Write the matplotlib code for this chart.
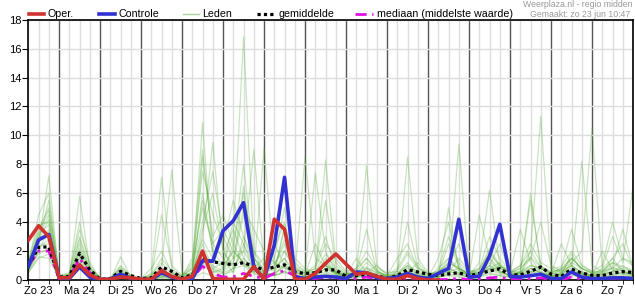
"""
Ensemble neerslagpluim (Weerplaza, regio midden) -> out.png
Waarden per 6 uur, afgelezen van het origineel.
"""

import matplotlib
matplotlib.use("Agg")
import matplotlib.pyplot as plt
from matplotlib.lines import Line2D

plt.rcParams["font.family"] = ["Liberation Sans", "DejaVu Sans"]

# 6-uurs stappen vanaf zo 23 jun 06:00 t/m ma 8 jul 00:00 (60 punten)
day_labels = ["Zo 23", "Ma 24", "Di 25", "Wo 26", "Do 27", "Vr 28", "Za 29", "Zo 30",
              "Ma 1", "Di 2", "Wo 3", "Do 4", "Vr 5", "Za 6", "Zo 7"]

# layout per lid: zo23 (06,12,18) | ma24 (00,06,12,18) | ... | zo7 | ma8 00
leden = [
    [0.8, 2.5, 7.2, 0.2, 0.2, 1.5, 0.4, 0.0, 0.1, 0.5, 0.2, 0.0, 0.1, 0.3, 0.2, 0.0, 0.2, 2.5, 0.8,
     1.2, 3.0, 16.8, 2.0, 0.5, 0.8, 1.5, 0.3, 0.1, 0.2, 0.5, 0.3, 0.1, 0.1, 0.3, 0.2, 0.0, 0.1, 0.4, 0.2,
     0.1, 0.5, 1.2, 0.8, 0.3, 0.2, 0.6, 1.0, 0.4, 0.2, 0.5, 0.8, 0.3, 0.2, 0.6, 0.4, 0.2, 0.1, 0.3, 0.5, 0.4],
    [1.0, 3.0, 4.5, 0.1, 0.2, 5.8, 0.8, 0.1, 0.0, 1.6, 0.2, 0.0, 0.0, 0.2, 0.5, 0.1, 0.5, 10.9, 1.5,
     0.8, 2.0, 1.2, 0.5, 9.1, 1.0, 2.5, 0.6, 0.2, 0.3, 0.8, 0.4, 0.2, 0.3, 0.6, 0.3, 0.1, 0.2, 0.5, 1.2,
     0.4, 0.2, 0.4, 9.4, 0.5, 0.3, 1.0, 2.5, 0.4, 0.3, 0.8, 0.5, 0.2, 0.4, 1.8, 0.6, 0.3, 0.2, 0.4, 0.3, 0.2],
    [0.6, 2.0, 3.5, 0.2, 0.3, 2.0, 0.5, 0.0, 0.1, 0.6, 0.1, 0.0, 0.5, 7.1, 0.8, 0.2, 1.0, 5.0, 2.5,
     1.5, 0.5, 3.0, 1.0, 0.3, 0.5, 2.0, 0.8, 0.4, 0.3, 1.5, 0.5, 0.2, 0.2, 0.8, 0.5, 0.2, 0.4, 1.0, 0.6,
     0.2, 0.3, 0.8, 0.5, 0.4, 0.5, 1.5, 0.8, 0.5, 0.4, 2.0, 11.3, 0.8, 0.5, 1.5, 0.8, 0.4, 0.3, 0.6, 1.0, 0.5],
    [1.2, 3.5, 5.0, 0.3, 0.2, 2.5, 0.6, 0.1, 0.0, 0.4, 0.1, 0.0, 0.2, 1.0, 7.6, 0.5, 0.3, 3.5, 6.0,
     2.0, 1.0, 6.5, 1.5, 0.5, 0.3, 1.2, 0.4, 8.5, 1.5, 1.0, 0.6, 0.3, 0.2, 0.5, 1.0, 0.3, 0.3, 0.8, 0.4,
     0.2, 0.2, 0.5, 1.5, 0.6, 0.4, 0.8, 1.2, 0.5, 0.6, 1.0, 0.8, 0.5, 0.3, 1.2, 2.0, 10.5, 0.8, 1.5, 0.6, 0.4],
    [0.9, 2.2, 2.8, 0.2, 0.4, 1.2, 0.3, 0.0, 0.1, 0.3, 0.0, 0.0, 0.1, 0.6, 0.2, 0.1, 0.4, 8.5, 3.0,
     4.5, 2.5, 1.0, 0.8, 1.5, 2.2, 4.0, 1.2, 0.6, 7.4, 2.0, 0.5, 0.3, 0.6, 1.5, 0.7, 0.2, 0.3, 0.6, 0.3,
     0.1, 0.4, 2.5, 1.0, 0.3, 1.2, 6.2, 1.0, 0.5, 0.8, 1.5, 0.6, 0.3, 0.5, 0.9, 8.2, 1.0, 0.6, 0.8, 1.5, 1.0],
    [0.7, 1.8, 2.2, 0.1, 0.2, 1.0, 0.2, 0.0, 0.0, 0.2, 0.1, 0.0, 0.3, 1.5, 0.6, 0.2, 0.8, 4.0, 7.5,
     3.0, 1.5, 2.0, 9.0, 1.0, 0.6, 3.5, 1.5, 0.8, 0.5, 8.3, 1.2, 0.5, 0.3, 0.6, 0.4, 0.2, 0.5, 1.0, 0.5,
     0.3, 0.2, 0.6, 0.8, 0.4, 0.3, 0.8, 0.6, 0.3, 0.5, 1.5, 4.0, 1.0, 0.6, 1.0, 0.5, 0.3, 0.8, 3.0, 1.2, 6.5],
    [1.1, 4.5, 6.0, 0.3, 0.5, 3.5, 1.2, 0.1, 0.1, 1.0, 0.3, 0.1, 0.2, 0.4, 0.3, 0.1, 0.3, 6.0, 2.0,
     1.0, 4.0, 2.5, 0.6, 0.4, 0.3, 0.6, 0.3, 0.2, 0.4, 1.0, 0.5, 0.3, 0.5, 7.9, 1.0, 0.4, 0.3, 0.5, 0.2,
     0.2, 0.8, 1.5, 0.6, 0.4, 0.6, 2.0, 0.9, 0.5, 3.5, 1.2, 0.5, 0.3, 0.4, 0.6, 0.4, 0.2, 0.5, 0.8, 0.6, 0.3],
    [0.5, 1.5, 1.8, 0.1, 0.1, 0.8, 0.3, 0.0, 0.0, 0.3, 0.1, 0.0, 0.1, 0.2, 0.1, 0.0, 0.2, 1.0, 0.5,
     0.8, 1.5, 5.0, 3.5, 2.0, 1.2, 0.8, 0.5, 0.3, 0.6, 1.8, 0.8, 0.4, 0.5, 0.4, 0.2, 0.1, 0.6, 8.5, 1.5,
     0.5, 0.3, 0.6, 0.4, 0.2, 0.4, 1.0, 0.6, 0.3, 0.6, 5.5, 1.0, 0.4, 0.7, 1.5, 0.8, 0.5, 0.4, 0.6, 0.8, 0.6],
    [1.3, 3.8, 4.0, 0.2, 0.3, 2.2, 0.8, 0.1, 0.1, 0.8, 0.2, 0.1, 0.8, 2.0, 0.5, 0.3, 1.2, 7.5, 4.5,
     2.5, 5.5, 3.0, 1.5, 0.6, 1.0, 2.8, 0.8, 0.5, 1.0, 3.0, 0.7, 0.3, 0.4, 1.2, 0.6, 0.3, 0.8, 2.0, 0.9,
     0.4, 0.6, 3.0, 1.2, 0.5, 0.8, 1.8, 1.0, 0.6, 1.0, 2.5, 1.2, 0.8, 0.9, 2.0, 1.0, 0.6, 1.0, 4.0, 1.5, 1.2],
    [0.8, 2.8, 3.0, 0.2, 0.2, 1.8, 0.5, 0.0, 0.0, 0.5, 0.2, 0.0, 0.0, 0.1, 0.1, 0.0, 0.1, 0.5, 0.3,
     0.3, 0.8, 1.5, 0.6, 0.4, 0.3, 0.6, 0.2, 0.1, 0.2, 0.4, 0.2, 0.1, 0.2, 0.3, 0.1, 0.1, 0.2, 0.3, 0.1,
     0.1, 0.2, 0.4, 0.3, 0.2, 0.3, 0.5, 0.3, 0.2, 0.3, 0.4, 0.3, 0.2, 0.2, 0.3, 0.2, 0.1, 0.2, 0.3, 0.2, 0.2],
    [1.0, 2.4, 2.5, 0.1, 0.3, 1.6, 0.6, 0.0, 0.1, 0.6, 0.2, 0.1, 0.3, 0.8, 0.3, 0.1, 0.6, 2.0, 1.0,
     0.6, 1.2, 4.5, 2.0, 1.0, 0.8, 1.5, 0.6, 0.5, 0.8, 2.5, 1.5, 0.6, 0.8, 2.0, 0.8, 0.5, 0.6, 1.8, 0.7,
     0.3, 0.5, 1.2, 0.8, 0.5, 0.8, 3.0, 1.5, 0.6, 0.5, 1.0, 0.8, 0.5, 0.8, 3.5, 1.0, 0.6, 0.5, 1.5, 2.5, 0.8],
    [0.6, 2.6, 5.5, 0.2, 0.4, 4.0, 1.0, 0.1, 0.0, 0.3, 0.1, 0.0, 0.1, 0.5, 0.2, 0.2, 0.5, 3.0, 9.5,
     2.0, 0.8, 1.0, 0.4, 0.3, 0.5, 0.9, 0.4, 0.2, 0.3, 0.8, 0.4, 0.2, 0.4, 0.8, 0.3, 0.1, 0.3, 0.6, 0.3,
     0.2, 0.5, 0.8, 0.5, 0.3, 4.5, 1.5, 0.5, 0.4, 0.5, 0.8, 0.5, 0.4, 2.5, 1.0, 0.5, 0.3, 0.4, 0.9, 0.6, 0.4],
    [0.9, 3.2, 3.8, 0.2, 0.3, 1.3, 0.4, 0.0, 0.1, 0.4, 0.1, 0.0, 0.2, 0.3, 0.1, 0.1, 0.3, 2.0, 0.8,
     0.5, 2.5, 6.0, 1.2, 0.6, 2.5, 1.0, 0.3, 0.2, 0.5, 1.2, 0.6, 0.3, 1.5, 0.5, 0.3, 0.2, 0.4, 0.9, 0.3,
     0.2, 0.3, 5.0, 0.7, 0.3, 0.5, 0.8, 0.5, 0.4, 0.5, 0.8, 0.5, 0.2, 0.5, 0.8, 0.4, 0.3, 2.0, 0.7, 0.4, 0.3],
    [0.7, 2.0, 2.0, 0.1, 0.2, 0.9, 0.2, 0.0, 0.0, 0.2, 0.0, 0.0, 0.0, 0.2, 0.2, 0.0, 0.3, 1.5, 0.7,
     0.5, 0.8, 2.0, 0.8, 0.4, 0.3, 0.5, 0.3, 0.2, 0.3, 0.6, 0.3, 0.2, 0.2, 0.4, 0.2, 0.1, 0.2, 0.5, 0.2,
     0.1, 0.2, 0.3, 0.2, 0.1, 0.2, 0.4, 0.3, 0.2, 0.3, 0.6, 0.4, 0.3, 0.3, 0.5, 0.3, 0.2, 0.3, 0.5, 0.4, 0.3],
    [1.1, 2.7, 4.2, 0.2, 0.3, 2.8, 0.7, 0.0, 0.1, 0.7, 0.2, 0.1, 0.4, 1.2, 0.4, 0.3, 0.8, 5.5, 2.0,
     1.8, 3.5, 1.5, 0.8, 0.5, 1.5, 5.0, 1.0, 0.6, 0.5, 1.0, 0.5, 0.4, 0.6, 0.9, 0.5, 0.3, 1.5, 2.5, 0.8,
     0.4, 0.6, 1.0, 2.5, 0.7, 0.5, 1.2, 0.8, 0.5, 0.8, 1.6, 0.9, 0.6, 0.7, 1.2, 0.8, 0.5, 0.6, 1.0, 3.5, 0.9],
    [0.5, 1.6, 1.5, 0.1, 0.1, 1.1, 0.3, 0.0, 0.1, 0.3, 0.1, 0.0, 0.1, 0.4, 0.2, 0.1, 0.4, 2.8, 1.5,
     1.0, 2.0, 1.2, 0.5, 0.3, 0.4, 1.0, 0.6, 0.3, 2.5, 1.0, 0.4, 0.2, 0.3, 0.5, 0.3, 0.2, 0.3, 0.4, 0.2,
     0.1, 0.3, 0.6, 0.4, 0.3, 0.4, 0.7, 0.4, 0.3, 0.4, 0.6, 0.4, 0.3, 0.4, 0.7, 0.5, 0.3, 0.4, 0.6, 0.5, 0.4],
    [0.8, 2.9, 3.2, 0.2, 0.2, 2.0, 0.5, 0.0, 0.0, 0.5, 0.1, 0.0, 0.2, 4.5, 1.0, 0.3, 0.5, 1.2, 0.6,
     0.4, 0.6, 2.5, 1.0, 0.5, 0.4, 3.8, 0.9, 0.4, 0.6, 1.2, 0.5, 0.3, 0.6, 3.5, 0.6, 0.2, 0.4, 1.2, 0.4,
     0.2, 1.5, 4.0, 0.8, 0.4, 0.5, 1.0, 0.6, 0.3, 0.5, 6.0, 0.8, 0.4, 0.6, 1.0, 0.5, 0.3, 0.6, 1.2, 0.7, 0.5],
    [1.0, 3.3, 4.8, 0.3, 0.4, 3.0, 0.9, 0.1, 0.1, 0.9, 0.3, 0.1, 0.2, 0.6, 0.3, 0.2, 1.5, 9.0, 2.5,
     3.5, 2.0, 8.0, 1.5, 0.8, 1.2, 2.0, 0.7, 0.5, 0.8, 5.5, 1.0, 0.4, 0.8, 1.5, 0.6, 0.3, 0.6, 4.0, 0.9,
     0.4, 0.5, 1.5, 0.8, 0.4, 0.7, 2.2, 1.0, 0.5, 1.0, 2.0, 0.9, 0.5, 0.8, 1.5, 0.8, 0.5, 0.7, 1.2, 0.9, 0.7],
]

# operationele run (10 dagen)
oper = [2.75, 3.75, 3.0, 0.15, 0.15, 1.05, 0.35, 0.05, 0.05, 0.2, 0.15, 0.05, 0.05, 0.65, 0.25,
        0.05, 0.25, 2.0, 0.1, 0.05, 0.05, 0.05, 0.92, 0.05, 4.2, 3.5, 0.05, 0.05, 0.45, 1.15, 1.8,
        1.1, 0.4, 0.5, 0.25, 0.05, 0.05, 0.3, 0.1, 0.0, 0.0]

controle = [0.92, 2.77, 3.15, 0.15, 0.1, 0.9, 0.2, 0.02, 0.05, 0.4, 0.1, 0.02, 0.02, 0.5, 0.2,
            0.05, 0.1, 1.33, 1.3, 3.4, 4.1, 5.35, 0.92, 0.07, 2.4, 7.1, 0.2, 0.1, 0.2, 0.25, 0.2,
            0.1, 0.55, 0.5, 0.15, 0.1, 0.2, 0.45, 0.2, 0.1, 0.45, 0.8, 4.2, 0.2, 0.25, 1.65, 3.85,
            0.25, 0.2, 0.3, 0.4, 0.1, 0.1, 0.55, 0.2, 0.1, 0.1, 0.15, 0.15, 0.1]

gemiddelde = [1.0, 2.25, 2.3, 0.2, 0.25, 1.85, 0.7, 0.05, 0.1, 0.6, 0.3, 0.1, 0.15, 0.9, 0.6,
              0.15, 0.35, 1.5, 1.25, 1.15, 1.05, 1.2, 0.95, 0.7, 0.9, 1.05, 0.55, 0.45, 0.5, 0.7,
              0.7, 0.25, 0.3, 0.4, 0.3, 0.1, 0.3, 0.72, 0.55, 0.4, 0.3, 0.42, 0.5, 0.28, 0.45, 0.62,
              0.78, 0.35, 0.35, 0.6, 0.9, 0.4, 0.25, 0.75, 0.48, 0.32, 0.3, 0.48, 0.58, 0.52]

mediaan = [1.0, 2.0, 2.0, 0.1, 0.15, 1.5, 0.5, 0.02, 0.05, 0.4, 0.15, 0.02, 0.05, 0.55, 0.2,
           0.05, 0.15, 0.95, 0.45, 0.2, 0.22, 0.45, 0.25, 0.1, 0.45, 0.65, 0.3, 0.1, 0.1, 0.2,
           0.15, 0.05, 0.1, 0.2, 0.1, 0.02, 0.05, 0.15, 0.1, 0.05, 0.02, 0.05, 0.1, 0.02, 0.05, 0.15,
           0.2, 0.05, 0.05, 0.1, 0.15, 0.05, 0.02, 0.2, 0.05, 0.02, 0.02, 0.1, 0.15, 0.1]

n = len(controle)
x = list(range(n))

fig = plt.figure(figsize=(6.35, 3.0), dpi=100)
ax = fig.add_axes([0.0446, 0.0667, 0.9523, 0.8677])

# raster: licht per 6 uur, donker op middernacht
for i in x:
    midnight = (i - 3) % 4 == 0
    ax.axvline(i, color="#555555" if midnight else "#dddddd", lw=1.0, zorder=0)
for yv in range(0, 19, 2):
    ax.axhline(yv, color="#dddddd", lw=1.0, zorder=0)

for m in leden:
    ax.plot(x, m, color="#4fa82f", lw=0.9, alpha=0.30, zorder=2)
ax.plot(x, mediaan, color="#e010e0", lw=2.0, ls=(0, (4, 2, 1, 2)), zorder=3)
ax.plot(x, gemiddelde, color="black", lw=2.3, ls=(0, (1, 1)), zorder=4)
ax.plot(x, controle, color="#3232d2", lw=2.6, zorder=5)
ax.plot(range(len(oper)), oper, color="#d03232", lw=2.6, zorder=6)

ax.set_xlim(0, n - 1)
ax.set_ylim(0, 18)
ax.set_yticks(range(0, 19, 2))
ax.tick_params(axis="y", labelsize=8, length=4, pad=1, direction="out")
ax.set_xticks(range(1, n, 4))
ax.set_xticklabels(day_labels)
ax.set_xticks(x, minor=True)
ax.tick_params(axis="x", which="major", labelsize=8, length=0, pad=4)
ax.tick_params(axis="x", which="minor", length=3, direction="out")
for s in ax.spines.values():
    s.set_color("black")
    s.set_linewidth(1.2)

# legenda boven de grafiek
ly = 0.954
items = [
    (0.045, 0.069, dict(color="#d03232", lw=2.6), "Oper."),
    (0.156, 0.181, dict(color="#3232d2", lw=2.6), "Controle"),
    (0.288, 0.313, dict(color="#a8d59a", lw=1.0), "Leden"),
    (0.405, 0.433, dict(color="black", lw=2.3, ls=(0, (1, 1))), "gemiddelde"),
    (0.559, 0.588, dict(color="#e010e0", lw=2.0, ls=(0, (4, 2, 1, 2))), "mediaan (middelste waarde)"),
]
for x0, x1, style, label in items:
    fig.add_artist(Line2D([x0, x1], [ly, ly], transform=fig.transFigure, **style))
    fig.text(x1 + 0.006, ly, label, fontsize=7.7, va="center", ha="left")

fig.text(0.996, 0.984, "Weerplaza.nl - regio midden", fontsize=6.3, color="#999999",
         ha="right", va="center")
fig.text(0.993, 0.951, "Gemaakt: zo 23 jun 10:47", fontsize=6.3, color="#999999",
         ha="right", va="center")

fig.savefig("out.png", dpi=100)
